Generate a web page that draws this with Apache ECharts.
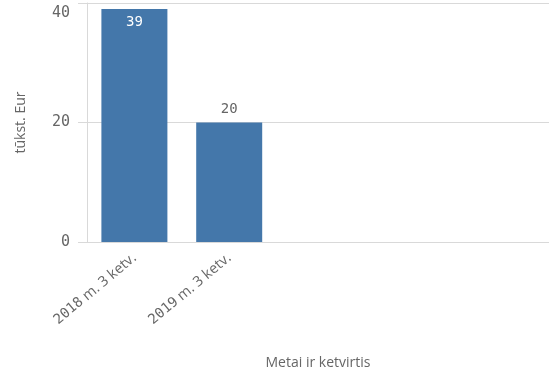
<!DOCTYPE html>
<html>
<head>
<meta charset="utf-8">
<script src="https://cdn.jsdelivr.net/npm/echarts@6/dist/echarts.min.js"></script>
<style>
  html, body { margin: 0; padding: 0; background: #fff; }
  #chart { width: 549px; height: 373px; }
</style>
</head>
<body>
<div id="chart"></div>
<script>
// duomenys
const categories = ['2018 m. 3 ketv.', '2019 m. 3 ketv.']
const values = [39, 20]
const yTicks = [0, 20, 40]

const barColor = '#4477aa'
const gridColor = '#d9d9d9'
const textColor = '#666'
const mono = 'DejaVu Sans Mono'
const sans = 'Open Sans'

// reikšmių etiketės: pirmoji stulpelio viduje, antroji virš stulpelio
const seriesData = values.map(function (v, i) {
    const inside = v > 30
    return {
        value: v,
        label: {
            position: inside ? 'insideTop' : 'top',
            distance: 6,
            color: inside ? '#fff' : textColor
        }
    }
})

const chart = echarts.init(document.getElementById('chart'))
chart.setOption({
    animation: false,
    grid: {
        left: 87,
        right: -12,
        top: 3,
        bottom: 131,
        outerBoundsMode: 'none',
        containLabel: false
    },
    xAxis: {
        type: 'category',
        data: categories,
        max: 4,
        name: 'Metai ir ketvirtis',
        nameLocation: 'middle',
        nameGap: 114,
        nameTextStyle: { fontFamily: sans, fontSize: 14, color: textColor, padding: [0, 12, 0, 0] },
        axisLine: { show: true, lineStyle: { color: gridColor } },
        axisTick: { show: false },
        axisLabel: {
            interval: 0,
            rotate: 40,
            margin: 14,
            color: textColor,
            formatter: function (v) {
                if (!v) return ''
                const parts = v.split(' ')
                return '{y|' + parts[0] + '}{s| ' + parts.slice(1).join(' ') + '}'
            },
            rich: {
                y: { fontFamily: mono, fontSize: 14, color: textColor },
                s: { fontFamily: sans, fontSize: 14.5, color: textColor }
            }
        }
    },
    yAxis: {
        type: 'value',
        min: yTicks[0],
        max: yTicks[yTicks.length - 1],
        interval: 20,
        name: 'tūkst. Eur',
        nameLocation: 'middle',
        nameGap: 59,
        nameTextStyle: { fontFamily: sans, fontSize: 14, color: textColor },
        axisLine: { show: true, lineStyle: { color: gridColor } },
        axisTick: { show: true, length: 9, lineStyle: { color: gridColor } },
        splitLine: { show: true, lineStyle: { color: gridColor } },
        axisLabel: {
            margin: 17,
            fontFamily: mono,
            fontSize: 15,
            color: textColor,
            formatter: function (v) {
                return v === yTicks[yTicks.length - 1] ? '{t|' + v + '}' : String(v)
            },
            rich: {
                t: { fontFamily: mono, fontSize: 15, color: textColor, padding: [20, 0, 0, 0] }
            }
        }
    },
    series: [{
        type: 'bar',
        data: seriesData,
        barWidth: 66,
        itemStyle: { color: barColor },
        label: {
            show: true,
            fontFamily: mono,
            fontSize: 14
        }
    }]
})
</script>
</body>
</html>
